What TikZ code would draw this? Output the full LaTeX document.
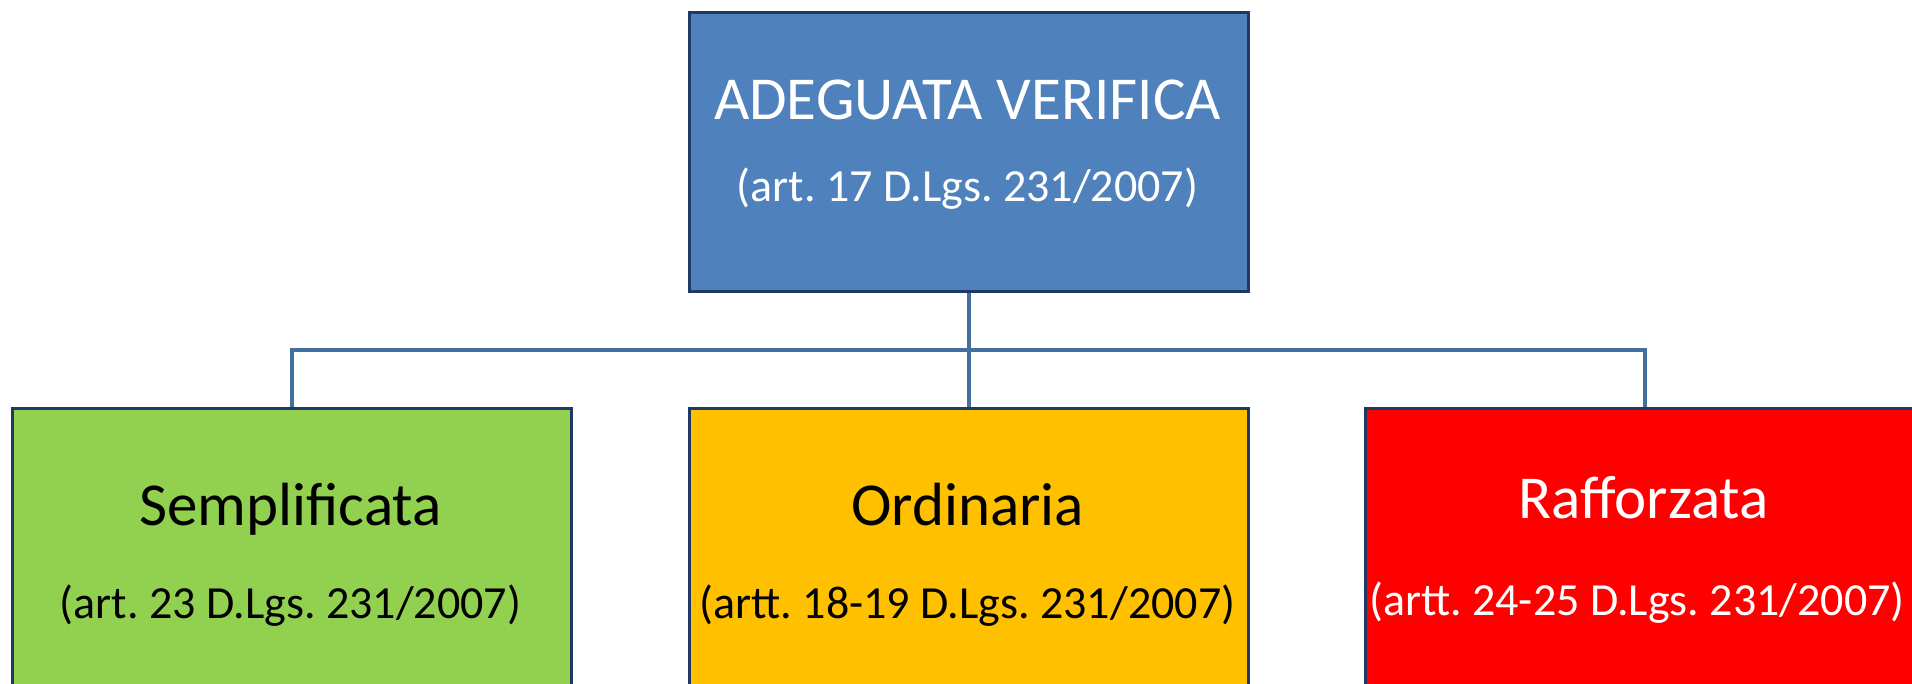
\documentclass[tikz,border=0pt]{standalone}
\usepackage{fontspec}
\setmainfont{Carlito}
\definecolor{topblue}{RGB}{79,129,189}
\definecolor{navy}{RGB}{31,56,100}
\definecolor{linkblue}{RGB}{65,113,156}
\definecolor{boxgreen}{RGB}{146,208,80}
\definecolor{boxorange}{RGB}{255,192,0}
\definecolor{boxred}{RGB}{255,0,0}
\begin{document}
\frenchspacing
\begin{tikzpicture}[x=1pt,y=-1pt,
  box/.style={draw=navy,line width=3pt,minimum width=559pt,inner sep=0pt,anchor=north west},
  link/.style={draw=linkblue,line width=3.5pt},
  title/.style={font=\fontsize{61}{64}\selectfont,anchor=base,inner sep=0pt},
  sub/.style={font=\fontsize{46}{50}\selectfont,anchor=base,inner sep=0pt}]
\useasboundingbox (0,0) rectangle (1912,684);
\clip (0,0) rectangle (1912,684);
\coordinate (bus) at (967.5,350);
\node[box,fill=topblue,minimum height=279pt] (top) at (688,11) {};
\node[box,fill=boxgreen,minimum height=400pt] (green) at (11,407) {};
\node[box,fill=boxorange,minimum height=400pt] (orange) at (688,407) {};
\node[box,fill=boxred,minimum height=400pt] (red) at (1364,407) {};
\draw[link] (top.south) -- (orange.north);
\draw[link] (green.north) |- (bus);
\draw[link] (red.north) |- (bus);
\node[title,text=white] (t1) at (967.5,120) {ADEGUATA VERIFICA};
\node[sub,text=white] (t2) at (967.5,202) {(art. 17 D.Lgs. 231/2007)};
\node[title] (g1) at (290.5,525) {Semplificata};
\node[sub] (g2) at (290.5,618) {(art. 23 D.Lgs. 231/2007)};
\node[title] (o1) at (967.5,525) {Ordinaria};
\node[sub] (o2) at (967.5,618) {(artt. 18-19 D.Lgs. 231/2007)};
\node[title,text=white] (r1) at (1643.5,518) {Rafforzata};
\node[sub,text=white] (r2) at (1637,615) {(artt. 24-25 D.Lgs. 231/2007)};
\end{tikzpicture}
\end{document}
